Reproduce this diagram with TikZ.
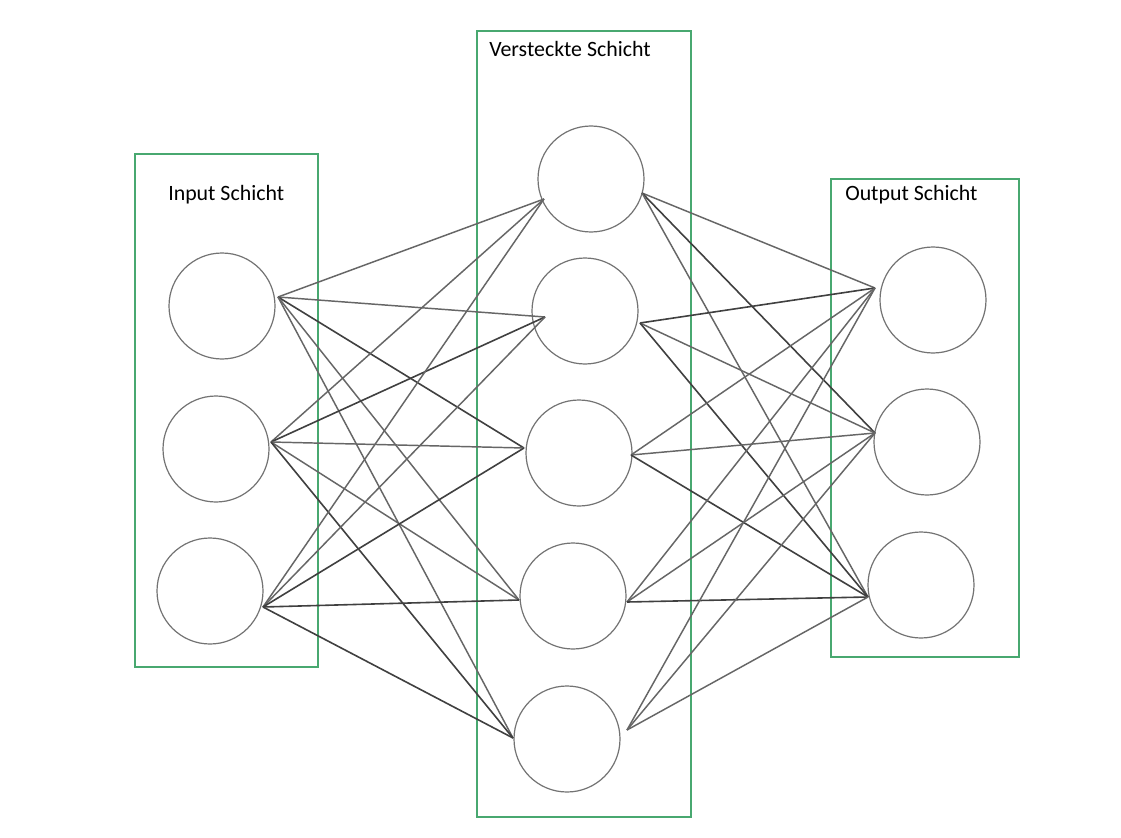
\documentclass[tikz,border=0pt]{standalone}
\usepackage{fontspec}
\setmainfont{Carlito}
\definecolor{boxgreen}{RGB}{72,168,112}
\begin{document}
\begin{tikzpicture}[x=0.75pt,y=-0.75pt,
  layerbox/.style={draw=boxgreen, line width=1.3pt},
  neuron/.style={circle, draw=black!55, line width=0.9pt, inner sep=0pt, minimum size=79.5pt},
  link/.style={draw=black!60, line width=1.1pt},
  linkdark/.style={draw=black!75, line width=1.2pt},
  layertext/.style={anchor=base west, inner sep=0pt, font=\fontsize{16.4}{19}\selectfont}]
\useasboundingbox[fill=white] (0,0) rectangle (1121,838);
% layer boxes
\draw[layerbox] (135,154) rectangle (318,667);
\draw[layerbox] (477,31) rectangle (691,817);
\draw[layerbox] (831,179) rectangle (1019,657);
% labels
\node[layertext] (tin) at (168,200) {Input Schicht};
\node[layertext] (thid) at (489,57) {Versteckte Schicht};
\node[layertext] (tout) at (845,200) {Output Schicht};
% neurons
\node[neuron] (i1) at (222,306) {};
\node[neuron] (i2) at (216,449) {};
\node[neuron] (i3) at (210,591) {};
\node[neuron] (h1) at (591,179) {};
\node[neuron] (h2) at (585,311) {};
\node[neuron] (h3) at (579,453) {};
\node[neuron] (h4) at (573,596) {};
\node[neuron] (h5) at (567,739) {};
\node[neuron] (o1) at (933,300) {};
\node[neuron] (o2) at (927,442) {};
\node[neuron] (o3) at (921,585) {};
% ports
\coordinate (i1o) at (278,297);
\coordinate (i2o) at (271,442);
\coordinate (i3o) at (263,607);
\coordinate (h1i) at (544,199);
\coordinate (h2i) at (545,317);
\coordinate (h3i) at (524,448);
\coordinate (h4i) at (519,600);
\coordinate (h5i) at (513,738);
\coordinate (h1o) at (642,193);
\coordinate (h2o) at (640,323);
\coordinate (h3o) at (631,455);
\coordinate (h4o) at (627,602);
\coordinate (h5o) at (627,730);
\coordinate (o1i) at (875,288);
\coordinate (o2i) at (875,433);
\coordinate (o3i) at (868,597);
% input -> hidden
\draw[link] (i1o) -- (h1i);
\draw[link] (i1o) -- (h2i);
\draw[linkdark] (i1o) -- (h3i);
\draw[link] (i1o) -- (h4i);
\draw[link] (i1o) -- (h5i);
\draw[link] (i2o) -- (h1i);
\draw[linkdark] (i2o) -- (h2i);
\draw[link] (i2o) -- (h3i);
\draw[link] (i2o) -- (h4i);
\draw[linkdark] (i2o) -- (h5i);
\draw[link] (i3o) -- (h1i);
\draw[link] (i3o) -- (h2i);
\draw[linkdark] (i3o) -- (h3i);
\draw[linkdark] (i3o) -- (h4i);
\draw[linkdark] (i3o) -- (h5i);
% hidden -> output
\draw[link] (h1o) -- (o1i);
\draw[linkdark] (h1o) -- (o2i);
\draw[link] (h1o) -- (o3i);
\draw[linkdark] (h2o) -- (o1i);
\draw[link] (h2o) -- (o2i);
\draw[linkdark] (h2o) -- (o3i);
\draw[link] (h3o) -- (o1i);
\draw[link] (h3o) -- (o2i);
\draw[linkdark] (h3o) -- (o3i);
\draw[link] (h4o) -- (o1i);
\draw[link] (h4o) -- (o2i);
\draw[linkdark] (h4o) -- (o3i);
\draw[link] (h5o) -- (o1i);
\draw[link] (h5o) -- (o2i);
\draw[link] (h5o) -- (o3i);
\end{tikzpicture}
\end{document}
